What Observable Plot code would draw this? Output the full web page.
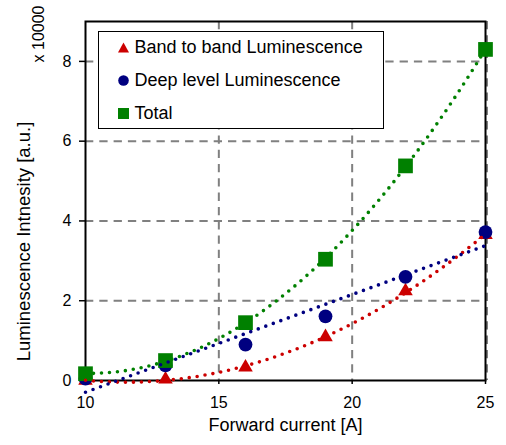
<!DOCTYPE html>
<html>
<head>
<meta charset="utf-8">
<script src="https://cdn.jsdelivr.net/npm/d3@7"></script>
<script src="https://cdn.jsdelivr.net/npm/@observablehq/plot@0.6"></script>
<style>
  body { margin: 0; background: #fff; font-family: "Liberation Sans", Arial, sans-serif; }
  #wrap { position: relative; width: 506px; height: 445px; }
  #legend { position: absolute; left: 98px; top: 31px; width: 286px; height: 98px;
    border: 1.5px solid #000; background: #fff; box-sizing: border-box; }
  .item { position: absolute; left: 0; height: 20px; width: 280px;
    font-size: 18px; color: #000; white-space: nowrap; }
  .item svg { position: absolute; left: 18.5px; top: 4.5px; }
  .item span { position: absolute; left: 35.5px; top: 0; line-height: 20px; }
</style>
</head>
<body>
<div id="wrap"></div>
<script>
// Data (values in units of 10000)
const forwardCurrent = [10, 13, 16, 19, 22, 25];
const bandToBand = [0.0, 0.03, 0.33, 1.09, 2.24, 3.65];
const deepLevel = [0.05, 0.38, 0.90, 1.61, 2.60, 3.72];
const total = [0.17, 0.50, 1.45, 3.04, 5.38, 8.30];

const seriesNames = ["Band to band Luminescence", "Deep level Luminescence", "Total"];
const seriesColors = ["#cc0000", "#000080", "#008000"];
const seriesSymbols = ["triangle", "circle", "square"];
const trendOrders = [2, 1, 2];   // Excel-style polynomial/linear trendlines
const xTicks = [10, 15, 20, 25];
const yTicks = [0, 2, 4, 6, 8];
const xGrid = [15, 20];
const xGridEdge = [25];
const yGrid = [2, 4, 6, 8];

const seriesValues = [bandToBand, deepLevel, total];

// least-squares polynomial fit (what the trendline is)
function polyFit(xs, ys, order) {
  const n = order + 1;
  const A = Array.from({length: n}, () => new Array(n + 1).fill(0));
  for (let i = 0; i < xs.length; i++) {
    for (let r = 0; r < n; r++) {
      for (let c = 0; c < n; c++) A[r][c] += Math.pow(xs[i], r + c);
      A[r][n] += ys[i] * Math.pow(xs[i], r);
    }
  }
  for (let p = 0; p < n; p++) {
    let m = p;
    for (let r = p + 1; r < n; r++) if (Math.abs(A[r][p]) > Math.abs(A[m][p])) m = r;
    [A[p], A[m]] = [A[m], A[p]];
    for (let r = 0; r < n; r++) {
      if (r === p) continue;
      const f = A[r][p] / A[p][p];
      for (let c = p; c <= n; c++) A[r][c] -= f * A[p][c];
    }
  }
  const coef = A.map((row, i) => row[n] / row[i]);
  return x => coef.reduce((s, k, i) => s + k * Math.pow(x, i), 0);
}

const points = [];
seriesNames.forEach((name, s) => {
  forwardCurrent.forEach((x, i) => points.push({series: name, x, y: seriesValues[s][i]}));
});

const trend = [];
const xMin = d3.min(forwardCurrent), xMax = d3.max(forwardCurrent);
seriesNames.forEach((name, s) => {
  const f = polyFit(forwardCurrent, seriesValues[s], trendOrders[s]);
  for (let k = 0; k <= 90; k++) {
    const x = xMin + (xMax - xMin) * k / 90;
    trend.push({series: name, x, y: f(x)});
  }
});

const colorOf = Object.fromEntries(seriesNames.map((n, i) => [n, seriesColors[i]]));
const symOf = Object.fromEntries(seriesNames.map((n, i) => [n, seriesSymbols[i]]));
const rOf = {"triangle": 5.4, "circle": 6.9, "square": 8.3};

const font = "'Liberation Sans', Arial, sans-serif";
const gridStyle = {stroke: "#808080", strokeOpacity: 1, strokeWidth: 2, strokeDasharray: "8.3,6"};

const chart = Plot.plot({
  width: 506,
  height: 445,
  marginLeft: 85,
  marginRight: 21,
  marginTop: 21,
  marginBottom: 65,
  style: {fontFamily: font, fontSize: "16px", background: "#fff", color: "#000"},
  x: {domain: [10, 25]},
  y: {domain: [0, 9]},
  marks: [
    Plot.gridX(xGrid, gridStyle),
    Plot.gridX(xGridEdge, {...gridStyle, dx: 1.5}),
    Plot.gridY(yGrid, gridStyle),
    Plot.axisX({ticks: xTicks, tickSize: 4, tickPadding: 12.5, fontSize: 16, label: null, stroke: "#000", strokeWidth: 1.5, tickFormat: d => d}),
    Plot.axisY({ticks: yTicks, tickSize: 6, tickPadding: 8, fontSize: 16, label: null, stroke: "#000", strokeWidth: 1.5, tickFormat: d => d}),
    Plot.frame({stroke: "#000", strokeWidth: 2}),
    ...seriesNames.map(name => Plot.dot(points.filter(d => d.series === name), {
      x: "x", y: "y", symbol: () => symOf[name], r: rOf[symOf[name]],
      fill: colorOf[name], stroke: "none"
    })),
    ...seriesNames.map(name => Plot.line(trend.filter(d => d.series === name), {
      x: "x", y: "y", stroke: colorOf[name], strokeWidth: 3.6,
      strokeDasharray: "0 8", strokeLinecap: "round"
    })),
    Plot.text(["Forward current [A]"], {text: d => d, frameAnchor: "bottom", dy: 45, fontSize: 18, lineAnchor: "middle"}),
    Plot.text(["Luminescence Intnesity [a.u.]"], {text: d => d, frameAnchor: "left", rotate: -90, dx: -61, dy: 40.5, fontSize: 18.5, lineAnchor: "middle", textAnchor: "middle"}),
    Plot.text(["x 10000"], {text: d => d, frameAnchor: "top-left", rotate: -90, dx: -47, dy: -16, fontSize: 16, lineAnchor: "middle", textAnchor: "end"})
  ]
});

const wrap = document.getElementById("wrap");
wrap.appendChild(chart);

// legend
const legend = document.createElement("div");
legend.id = "legend";
const symbolSvg = {
  triangle: c => `<svg width="11" height="11" viewBox="0 0 11 11"><path d="M5.5 0.5 L11 10.5 L0 10.5 Z" fill="${c}"/></svg>`,
  circle: c => `<svg width="11" height="11" viewBox="0 0 11 11"><circle cx="5.5" cy="5.5" r="5.3" fill="${c}"/></svg>`,
  square: c => `<svg width="11" height="11" viewBox="0 0 11 11"><rect x="0" y="0" width="11" height="11" fill="${c}"/></svg>`
};
seriesNames.forEach((name, i) => {
  const it = document.createElement("div");
  it.className = "item";
  it.style.top = (5 + i * 33) + "px";
  it.innerHTML = symbolSvg[seriesSymbols[i]](seriesColors[i]) + `<span>${name}</span>`;
  legend.appendChild(it);
});
wrap.appendChild(legend);
</script>
</body>
</html>
